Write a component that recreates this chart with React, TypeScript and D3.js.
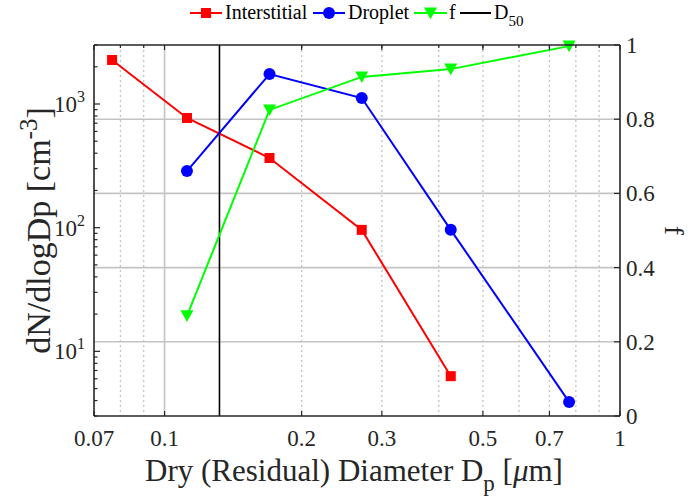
import React from "react";
import * as d3 from "d3";

const interX = [0.0767, 0.112, 0.17, 0.271, 0.425];
const interY = [2270, 771, 366, 96, 6.3];
const dropX = [0.112, 0.17, 0.271, 0.425, 0.773];
const dropY = [287, 1748, 1118, 96, 3.9];
const fX = [0.112, 0.17, 0.271, 0.425, 0.773];
const fY = [0.27, 0.825, 0.914, 0.935, 0.997];
const d50 = 0.132;

const xTickVals = [0.07, 0.1, 0.2, 0.3, 0.5, 0.7, 1];
const xTickLabels = ["0.07", "0.1", "0.2", "0.3", "0.5", "0.7", "1"];
const xMinor = [0.08, 0.09, 0.2, 0.3, 0.4, 0.5, 0.6, 0.7, 0.8, 0.9];
const yLeftTicks = [10, 100, 1000];
const yLeftExp = ["1", "2", "3"];
const yRightTicks = [0, 0.2, 0.4, 0.6, 0.8, 1];
const yRightLabels = ["0", "0.2", "0.4", "0.6", "0.8", "1"];

const W = 690, H = 502;
const L = 94, R = 620, T = 45, B = 416;
const FONT = "'Liberation Serif'";
const AX = "#262626";
const GRID = "#c4c4c4";

export default function App() {
  const x = d3.scaleLog().domain([0.07, 1]).range([L, R]);
  const yl = d3.scaleLog().domain([3, 3000]).range([B, T]);
  const yr = d3.scaleLinear().domain([0, 1]).range([B, T]);

  const lineL = d3.line<[number, number]>().x(d => x(d[0])).y(d => yl(d[1]));
  const lineR = d3.line<[number, number]>().x(d => x(d[0])).y(d => yr(d[1]));

  const inter = interX.map((v, i) => [v, interY[i]] as [number, number]);
  const drop = dropX.map((v, i) => [v, dropY[i]] as [number, number]);
  const ff = fX.map((v, i) => [v, fY[i]] as [number, number]);

  const yMinor: number[] = [];
  for (let e = 0; e <= 3; e++) for (let m = 2; m <= 9; m++) {
    const v = m * Math.pow(10, e);
    if (v >= 3 && v <= 3000) yMinor.push(v);
  }

  const tri = (cx: number, cy: number, s: number) =>
    `M${cx - s},${cy - s * 0.85}L${cx + s},${cy - s * 0.85}L${cx},${cy + s * 0.95}Z`;

  const ts = { fontFamily: FONT };
  const legY = 13;
  return (
    <svg width={W} height={H} style={{ position: "fixed", left: 0, top: 0, background: "#fff", fontFamily: FONT }}>
      <rect x={0} y={0} width={W} height={H} fill="#fff" />
      {/* grid */}
      {xMinor.map((v, i) => (
        <line key={"gm" + i} x1={x(v)} x2={x(v)} y1={T} y2={B} stroke={GRID} strokeWidth={1.3} strokeDasharray="2,3" />
      ))}
      <line x1={x(0.1)} x2={x(0.1)} y1={T} y2={B} stroke={GRID} strokeWidth={1.6} />
      {yRightTicks.slice(1, -1).map((v, i) => (
        <line key={"gh" + i} x1={L} x2={R} y1={yr(v)} y2={yr(v)} stroke={GRID} strokeWidth={1.6} />
      ))}
      {/* D50 */}
      <line x1={x(d50)} x2={x(d50)} y1={T} y2={B} stroke="#000" strokeWidth={1.6} />
      {/* series */}
      <path d={lineL(inter) || ""} fill="none" stroke="#ff0000" strokeWidth={2} />
      <path d={lineL(drop) || ""} fill="none" stroke="#0000ff" strokeWidth={2} />
      <path d={lineR(ff) || ""} fill="none" stroke="#00ff00" strokeWidth={2} />
      {inter.map((d, i) => (
        <rect key={"is" + i} x={x(d[0]) - 5} y={yl(d[1]) - 5} width={10} height={10} fill="#ff0000" />
      ))}
      {drop.map((d, i) => (
        <circle key={"dc" + i} cx={x(d[0])} cy={yl(d[1])} r={6} fill="#0000ff" />
      ))}
      {ff.map((d, i) => (
        <path key={"ft" + i} d={tri(x(d[0]), yr(d[1]), 6.5)} fill="#00ff00" />
      ))}
      {/* axes box */}
      <line x1={L} x2={R} y1={T} y2={T} stroke={AX} strokeWidth={1.6} />
      <line x1={L} x2={R} y1={B} y2={B} stroke={AX} strokeWidth={1.6} />
      <line x1={L} x2={L} y1={T} y2={B} stroke={AX} strokeWidth={1.6} />
      <line x1={R} x2={R} y1={T} y2={B} stroke={AX} strokeWidth={1.6} />
      {/* x ticks */}
      {xTickVals.map((v, i) => (
        <g key={"xt" + i}>
          <line x1={x(v)} x2={x(v)} y1={B} y2={B - 5} stroke={AX} strokeWidth={1.2} />
          <line x1={x(v)} x2={x(v)} y1={T} y2={T + 5} stroke={AX} strokeWidth={1.2} />
          <text x={x(v)} y={446} textAnchor="middle" fontSize={23} fill={AX} style={ts}>{xTickLabels[i]}</text>
        </g>
      ))}
      {xMinor.map((v, i) => (
        <line key={"xm" + i} x1={x(v)} x2={x(v)} y1={T} y2={T + 3} stroke={AX} strokeWidth={1.2} />
      ))}
      {/* left y ticks */}
      {yLeftTicks.map((v, i) => (
        <g key={"yl" + i}>
          <line x1={L} x2={L + 6} y1={yl(v)} y2={yl(v)} stroke={AX} strokeWidth={1.2} />
          <text x={85} y={yl(v) + 8} textAnchor="end" fontSize={23} fill={AX} style={ts}>
            10<tspan dy={-10} fontSize={16}>{yLeftExp[i]}</tspan>
          </text>
        </g>
      ))}
      {yMinor.map((v, i) => (
        <line key={"ym" + i} x1={L} x2={L + 3.5} y1={yl(v)} y2={yl(v)} stroke={AX} strokeWidth={1.2} />
      ))}
      {/* right y ticks */}
      {yRightTicks.map((v, i) => (
        <g key={"yr" + i}>
          <line x1={R} x2={R - 6} y1={yr(v)} y2={yr(v)} stroke={AX} strokeWidth={1.2} />
          <text x={626} y={yr(v) + 8} textAnchor="start" fontSize={23} fill={AX} style={ts}>{yRightLabels[i]}</text>
        </g>
      ))}
      {/* axis labels */}
      <text x={354} y={481} textAnchor="middle" fontSize={31} fill={AX} style={ts}>
        Dry (Residual) Diameter D<tspan dy={10} fontSize={23}>p</tspan><tspan dy={-10}> [</tspan><tspan fontStyle="italic">μ</tspan>m]
      </text>
      <text transform={`translate(50,${(T + B) / 2}) rotate(-90)`} textAnchor="middle" fontSize={34} fill={AX} style={ts}>
        dN/dlogDp [cm<tspan dy={-13} fontSize={25}>-3</tspan><tspan dy={13}>]</tspan>
      </text>
      <text transform={`translate(665,${(T + B) / 2}) rotate(90)`} textAnchor="middle" fontSize={27} fill={AX} style={ts}>f</text>
      {/* legend */}
      <g style={ts}>
        <line x1={190} x2={222} y1={legY} y2={legY} stroke="#ff0000" strokeWidth={2} />
        <rect x={201} y={legY - 5} width={10} height={10} fill="#ff0000" />
        <text x={225} y={legY + 6} fontSize={20} fill="#000">Interstitial</text>
        <line x1={313} x2={345} y1={legY} y2={legY} stroke="#0000ff" strokeWidth={2} />
        <circle cx={329} cy={legY} r={6} fill="#0000ff" />
        <text x={348} y={legY + 6} fontSize={20} fill="#000">Droplet</text>
        <line x1={414} x2={447} y1={legY} y2={legY} stroke="#00ff00" strokeWidth={2} />
        <path d={tri(430.5, legY, 6.5)} fill="#00ff00" />
        <text x={449} y={legY + 6} fontSize={20} fill="#000">f</text>
        <line x1={460} x2={491} y1={legY} y2={legY} stroke="#000" strokeWidth={2} />
        <text x={494} y={legY + 6} fontSize={20} fill="#000">
          D<tspan dy={7} fontSize={15}>50</tspan>
        </text>
      </g>
    </svg>
  );
}
